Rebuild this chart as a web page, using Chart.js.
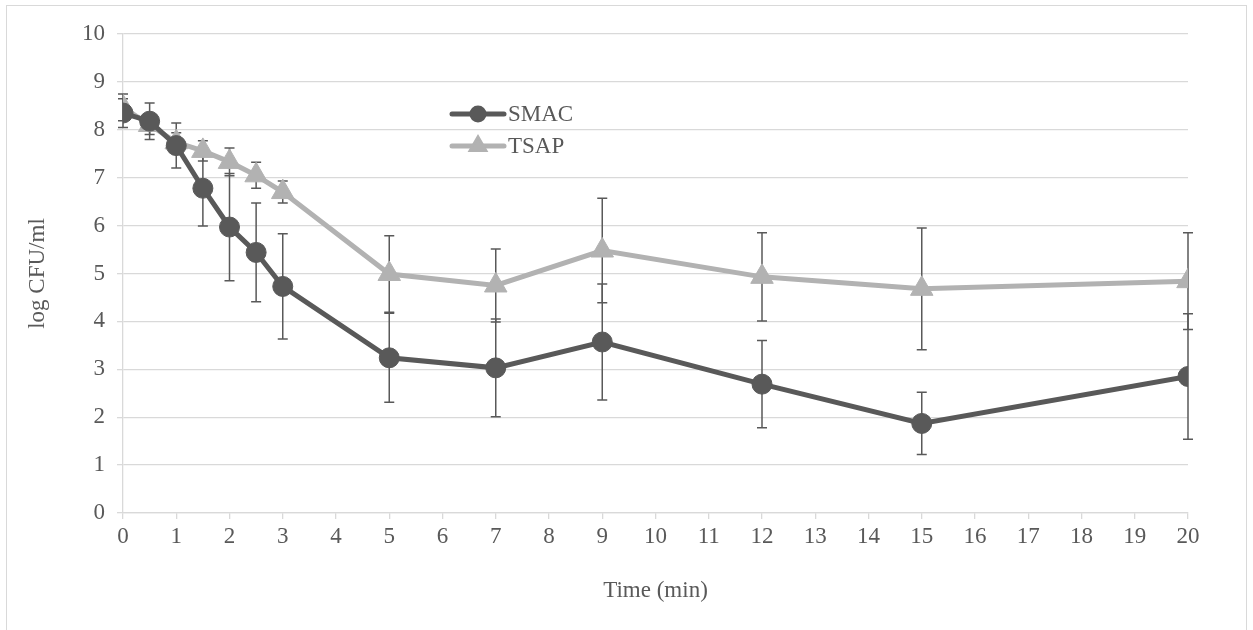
<!DOCTYPE html>
<html>
  <head>
    <meta charset="utf-8">
    <title>log CFU/ml vs time</title>
    <style>
      html, body { margin: 0; padding: 0; background: #fff; }
      #wrap { position: relative; width: 1253px; height: 630px; }
    </style>
  </head>
  <body>
    <div id="wrap">
      <canvas id="chart0" width="1253" height="630"></canvas>
    </div>

    <script src="https://cdn.jsdelivr.net/npm/chart.js@4.4.0/dist/chart.umd.min.js"></script>
    <script type="text/javascript">
      // sampling times (min)
      var times = [0, 0.5, 1, 1.5, 2, 2.5, 3, 5, 7, 9, 12, 15, 20];
      // SMAC counts and standard deviation
      var smac = [8.35, 8.18, 7.67, 6.78, 5.97, 5.44, 4.73, 3.24, 3.03, 3.57, 2.69, 1.87, 2.85];
      var smacErr = [0.30, 0.38, 0.47, 0.79, 1.12, 1.03, 1.10, 0.93, 1.02, 1.21, 0.91, 0.65, 1.31];
      // TSAP counts and standard deviation
      var tsap = [8.47, 8.10, 7.74, 7.56, 7.33, 7.05, 6.70, 4.99, 4.75, 5.48, 4.93, 4.68, 4.84];
      var tsapErr = [0.28, 0.20, 0.20, 0.21, 0.29, 0.27, 0.23, 0.80, 0.76, 1.09, 0.92, 1.27, 1.01];

      var dark = '#595959';
      var light = '#b2b2b2';
      var grid = '#d9d9d9';
      var serif = "'Liberation Serif', 'Times New Roman', serif";
      var fontSize = 23;

      function toPoints(ys) {
        return times.map(function (t, i) { return { x: t, y: ys[i] }; });
      }

      // vertical error bars with caps, drawn under the lines
      var errorBars = {
        id: 'errorBars',
        beforeDatasetsDraw: function (chart) {
          var ctx = chart.ctx;
          var xs = chart.scales.x, ys = chart.scales.y;
          ctx.save();
          ctx.strokeStyle = dark;
          ctx.lineWidth = 1.5;
          chart.data.datasets.forEach(function (ds) {
            ds.data.forEach(function (p, i) {
              var e = ds.errors[i];
              var px = xs.getPixelForValue(p.x);
              var top = ys.getPixelForValue(p.y + e);
              var bot = ys.getPixelForValue(p.y - e);
              ctx.beginPath();
              ctx.moveTo(px, top); ctx.lineTo(px, bot);
              ctx.moveTo(px - 5, top); ctx.lineTo(px + 5, top);
              ctx.moveTo(px - 5, bot); ctx.lineTo(px + 5, bot);
              ctx.stroke();
            });
          });
          ctx.restore();
        }
      };

      // legend inside the plot, plus the thin outer frame
      var innerLegend = {
        id: 'innerLegend',
        afterDraw: function (chart) {
          var ctx = chart.ctx;
          ctx.save();
          ctx.strokeStyle = grid;
          ctx.lineWidth = 1;
          ctx.strokeRect(6.5, 5.5, 1240, 630);
          var rows = [114, 146];
          chart.data.datasets.forEach(function (ds, i) {
            var y = rows[i];
            ctx.strokeStyle = ds.borderColor;
            ctx.lineWidth = 5;
            ctx.lineCap = 'round';
            ctx.beginPath();
            ctx.moveTo(452, y); ctx.lineTo(504, y);
            ctx.stroke();
            Chart.helpers.drawPoint(ctx, {
              pointStyle: ds.pointStyle, radius: ds.pointStyle === 'triangle' ? 7 : 6,
              borderWidth: 1, rotation: 0
            }, 478, y);
            ctx.fillStyle = ds.borderColor;
            ctx.fill();
            ctx.fillStyle = dark;
            ctx.font = fontSize + 'px ' + serif;
            ctx.textBaseline = 'middle';
            ctx.textAlign = 'left';
            ctx.fillText(ds.label, 508, y + 1);
          });
          ctx.restore();
        }
      };

      var ctx0 = document.getElementById('chart0').getContext('2d');
      var chart0 = new Chart(ctx0, {
        type: 'line',
        data: {
          datasets: [{
            label: 'SMAC',
            data: toPoints(smac),
            errors: smacErr,
            borderColor: dark,
            backgroundColor: dark,
            borderWidth: 5,
            pointStyle: 'circle',
            pointRadius: 10,
            pointBorderWidth: 1,
            pointBackgroundColor: dark,
            pointBorderColor: dark,
            tension: 0
          }, {
            label: 'TSAP',
            data: toPoints(tsap),
            errors: tsapErr,
            borderColor: light,
            backgroundColor: light,
            borderWidth: 5,
            pointStyle: 'triangle',
            pointRadius: 13,
            pointBorderWidth: 1,
            pointBackgroundColor: light,
            pointBorderColor: light,
            tension: 0
          }]
        },
        options: {
          responsive: false,
          animation: false,
          devicePixelRatio: 1,
          layout: { padding: { left: 0, top: 34, right: 65, bottom: 0 } },
          plugins: {
            legend: { display: false },
            tooltip: { enabled: false }
          },
          scales: {
            x: {
              type: 'linear',
              min: 0,
              max: 20,
              afterFit: function (s) { s.height = 117; },
              ticks: {
                stepSize: 1,
                padding: 4,
                color: dark,
                font: { family: serif, size: fontSize }
              },
              grid: { drawOnChartArea: false, drawTicks: true, tickLength: 6, color: grid, lineWidth: 1.3 },
              border: { color: grid, width: 1.3 },
              title: {
                display: true,
                text: 'Time (min)',
                color: dark,
                font: { family: serif, size: fontSize },
                padding: { top: 0, bottom: 25 }
              }
            },
            y: {
              min: 0,
              max: 10,
              afterFit: function (s) { s.width = 123; },
              ticks: {
                stepSize: 1,
                padding: 12,
                color: dark,
                font: { family: serif, size: fontSize }
              },
              grid: { color: grid, lineWidth: 1.3, tickLength: 6 },
              border: { color: grid, width: 1.3 },
              title: {
                display: true,
                text: 'log CFU/ml',
                color: dark,
                font: { family: serif, size: fontSize },
                padding: { top: 24, bottom: 0 }
              }
            }
          }
        },
        plugins: [errorBars, innerLegend]
      });
    </script>
  </body>
</html>
